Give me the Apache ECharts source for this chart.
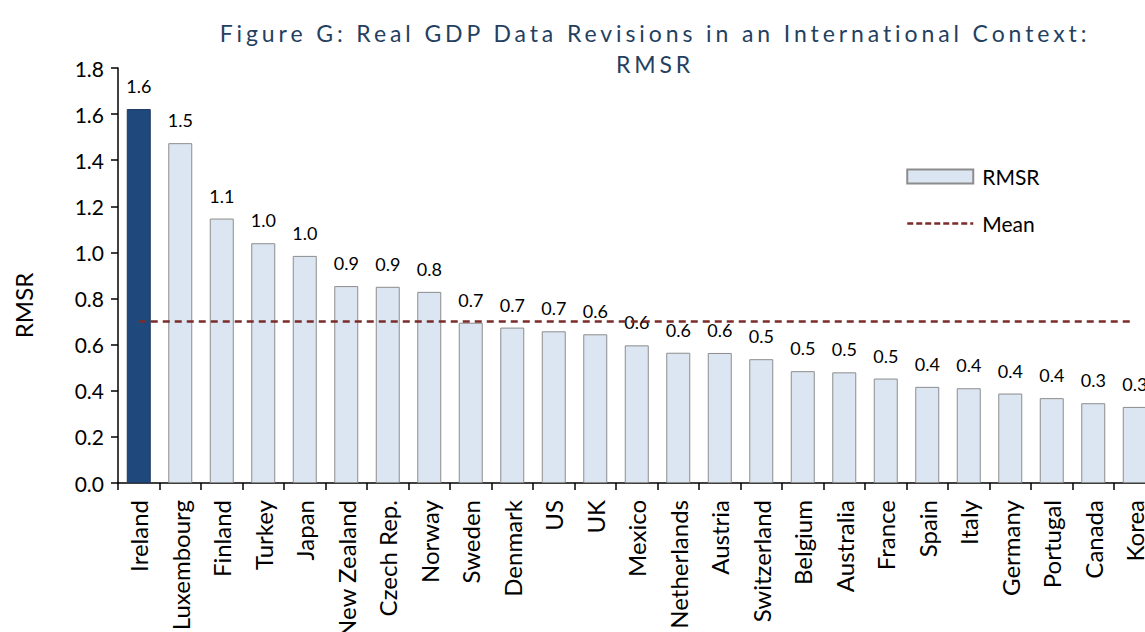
<!DOCTYPE html>
<html>
<head>
<meta charset="utf-8">
<script src="https://cdn.jsdelivr.net/npm/echarts@6/dist/echarts.min.js"></script>
<style>
  html, body { margin: 0; padding: 0; background: #fff; }
  #chart { width: 1145px; height: 632px; }
</style>
</head>
<body>
<div id="chart"></div>
<script>
// countries, ordered as in the figure
var countries = ['Ireland', 'Luxembourg', 'Finland', 'Turkey', 'Japan', 'New Zealand', 'Czech Rep.',
  'Norway', 'Sweden', 'Denmark', 'US', 'UK', 'Mexico', 'Netherlands', 'Austria', 'Switzerland',
  'Belgium', 'Australia', 'France', 'Spain', 'Italy', 'Germany', 'Portugal', 'Canada', 'Korea']
var rmsr = [1.622, 1.474, 1.147, 1.04, 0.985, 0.854, 0.851, 0.829, 0.695, 0.674, 0.658, 0.645,
  0.597, 0.565, 0.564, 0.537, 0.485, 0.480, 0.453, 0.417, 0.411, 0.388, 0.368, 0.346, 0.330]
var meanValue = 0.70
var yTicks = [0, 0.2, 0.4, 0.6, 0.8, 1.0, 1.2, 1.4, 1.6, 1.8]

var font = 'Lato'
var titleColor = '#243F60'
var chart = echarts.init(document.getElementById('chart'), null, { renderer: 'svg' })

var barData = rmsr.map(function (v, i) {
  // Ireland is highlighted in dark blue
  if (i === 0) return { value: v, itemStyle: { color: '#1F487C', borderColor: '#1F3A5F' } }
  return v
})

var option = {
  animation: false,
  title: {
    text: 'Figure G: Real GDP Data Revisions in an International Context:\nRMSR',
    left: 650,
    textAlign: 'center',
    top: 12,
    textStyle: {
      fontFamily: font,
      fontWeight: 'normal',
      fontSize: 23,
      color: titleColor,
      lineHeight: 31
    }
  },
  legend: {
    orient: 'vertical',
    left: 901,
    top: 161,
    itemWidth: 66,
    itemHeight: 14,
    itemGap: 26,
    textStyle: { fontFamily: font, fontSize: 21, color: '#000', padding: [0, 0, 0, 4] },
    data: [
      { name: 'RMSR', icon: 'rect' },
      // hide the marker dot, keep only the dashed line
      {
        name: 'Mean',
        itemStyle: { color: 'rgba(0,0,0,0)', borderColor: 'rgba(0,0,0,0)', opacity: 0 },
        lineStyle: { color: '#7B2C2A', width: 2.5, type: [6, 3] }
      }
    ]
  },
  grid: { left: 118, top: 68, width: 1037.5, height: 415, outerBoundsMode: 'none' },
  xAxis: {
    type: 'category',
    data: countries,
    axisLine: { lineStyle: { color: '#000', width: 1.5 } },
    axisTick: { show: true, length: 7, lineStyle: { color: '#000', width: 1.5 } },
    axisLabel: { rotate: 90, margin: 17, fontFamily: font, fontSize: 24, color: '#000', interval: 0 }
  },
  yAxis: {
    type: 'value',
    min: 0,
    max: 1.8,
    interval: 0.2,
    name: 'RMSR',
    nameLocation: 'middle',
    nameGap: 83,
    nameTextStyle: { fontFamily: font, fontSize: 24, color: '#000', padding: [0, 60, 0, 0] },
    splitLine: { show: false },
    axisLine: { show: true, lineStyle: { color: '#000', width: 1.5 } },
    axisTick: { show: true, length: 7, lineStyle: { color: '#000', width: 1.5 } },
    axisLabel: {
      margin: 14, fontFamily: font, fontSize: 21, color: '#000',
      formatter: function (v) { return yTicks.indexOf(Math.round(v * 10) / 10) >= 0 ? v.toFixed(1) : '' }
    }
  },
  series: [
    {
      name: 'RMSR',
      type: 'bar',
      data: barData,
      barWidth: 24,
      itemStyle: { color: '#DCE6F2', borderColor: '#8C8C8C', borderWidth: 1 },
      label: {
        show: true,
        position: 'top',
        distance: 14,
        fontFamily: font,
        fontSize: 18,
        color: '#000',
        formatter: function (p) { return p.value.toFixed(1) }
      },
      z: 2
    },
    {
      name: 'Mean',
      type: 'line',
      data: countries.map(function () { return meanValue }),
      symbol: 'none',
      itemStyle: { color: '#7B2C2A' },
      lineStyle: { color: '#7B2C2A', width: 2.5, type: [7, 5] },
      z: 3
    }
  ]
}

chart.setOption(option)

// the original title is set with wide letter spacing
document.querySelectorAll('#chart text').forEach(function (t) {
  var fill = (t.getAttribute('fill') || t.style.fill || '').toLowerCase()
  if (fill === titleColor.toLowerCase() || fill === 'rgb(36, 63, 96)') t.style.letterSpacing = '3.9px'
})
</script>
</body>
</html>
